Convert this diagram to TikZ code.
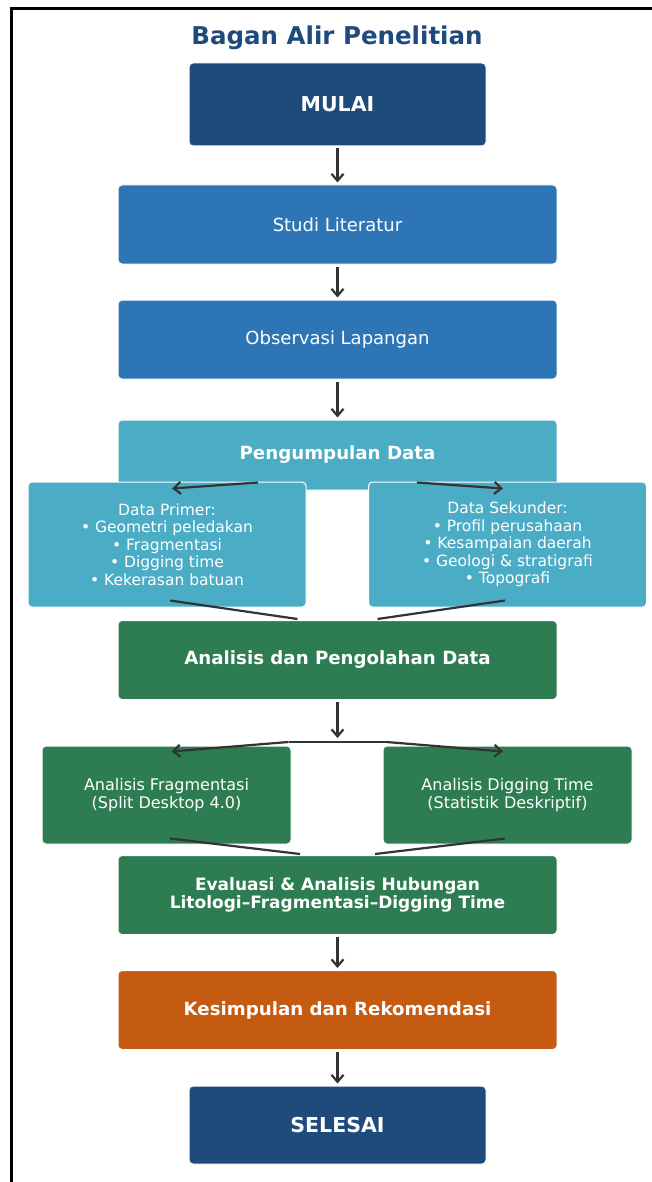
\documentclass[tikz,border=0pt]{standalone}
\usepackage{fontspec}
\setmainfont{DejaVu Sans}
\usetikzlibrary{arrows.meta,calc,positioning}

\definecolor{darkblue}{HTML}{1F4A7C}
\definecolor{midblue}{HTML}{2E75B6}
\definecolor{tealblue}{HTML}{4BACC6}
\definecolor{stepgreen}{HTML}{2E7D52}
\definecolor{steporange}{HTML}{C55A11}
\definecolor{arrowgray}{HTML}{333333}

\newcommand\boxreg{\fontsize{18}{21}\selectfont}
\newcommand\boxbold{\fontsize{18.2}{21}\selectfont\bfseries}

\begin{document}
\begin{tikzpicture}[x=1pt,y=-1pt,
    box/.style={draw=white, line width=1pt, rounded corners=4pt, text=white, align=center, inner sep=0pt},
    wide/.style={box, minimum width=439pt, minimum height=79pt},
    endbox/.style={box, fill=darkblue, minimum width=297pt, font=\fontsize{20.5}{24}\selectfont\bfseries},
    databox/.style={box, fill=tealblue, minimum width=278pt, minimum height=125pt, font=\fontsize{15.5}{17.5}\selectfont},
    anbox/.style={box, fill=stepgreen, minimum width=249pt, minimum height=98pt, font=\fontsize{16}{17.5}\selectfont},
    arr/.style={draw=arrowgray, line width=2.2pt, -{Straight Barb[length=7pt,width=12pt]}},
    down/.style={arr, shorten <=2pt, shorten >=2pt},
    link/.style={draw=arrowgray, line width=2.2pt}]

    \useasboundingbox (0,0) rectangle (652,1182);
    \fill[white] (0,0) rectangle (652,1182);
    \draw[line width=3pt] (11,1200) -- (11,9) -- (670,9);

    \node (title) at (337,38) [text=darkblue, font=\fontsize{24.5}{29}\selectfont\bfseries] {Bagan Alir Penelitian};

    \node (mulai) at (337.5,104.5) [endbox, minimum height=83pt] {MULAI};
    \node (studi) at (337.5,224.5) [wide, fill=midblue, font=\boxreg] {Studi Literatur};
    \node (observasi) at (337.5,339.5) [wide, fill=midblue, font=\boxreg] {Observasi Lapangan};
    \node (kumpul) at (337.5,455) [wide, fill=tealblue, minimum height=70pt, font=\boxbold] {Pengumpulan Data};

    \node (primer) at (167,544.5) [databox] {Data Primer:\\• Geometri peledakan\\• Fragmentasi\\• Digging time\\• Kekerasan batuan};
    \node (sekunder) at (507.5,544.5) [databox] {Data Sekunder:\\• Profil perusahaan\\• Kesampaian daerah\\• Geologi \& stratigrafi\\• Topografi};

    \node (analisis) at (337.5,660) [wide, fill=stepgreen, font=\boxbold] {Analisis dan Pengolahan Data};

    \node (fragmen) at (166.5,795) [anbox] {Analisis Fragmentasi\\(Split Desktop 4.0)};
    \node (digging) at (507.5,795) [anbox] {Analisis Digging Time\\(Statistik Deskriptif)};

    \node (evaluasi) at (337.5,895) [wide, fill=stepgreen, font=\fontsize{17}{18}\selectfont\bfseries] {Evaluasi \& Analisis Hubungan\\Litologi–Fragmentasi–Digging Time};
    \node (kesimpulan) at (337.5,1010) [wide, fill=steporange, font=\boxbold] {Kesimpulan dan Rekomendasi};
    \node (selesai) at (337.5,1125) [endbox, minimum height=78pt] {SELESAI};

    % main line
    \draw[down] (mulai) -- (studi);
    \draw[down] (studi) -- (observasi);
    \draw[down] (observasi) -- (kumpul);

    % split into data
    \draw[arr] ([xshift=-79.5pt,yshift=8pt]kumpul.south) -- ([xshift=5pt,yshift=-7pt]primer.north);
    \draw[arr] ([xshift=79.5pt,yshift=8pt]kumpul.south) -- ([xshift=-4.5pt,yshift=-7pt]sekunder.north);
    \draw[link] ([xshift=3pt,yshift=7pt]primer.south) -- ([xshift=-40pt,yshift=1pt]analisis.north);
    \draw[link] ([xshift=-2.5pt,yshift=7pt]sekunder.south) -- ([xshift=40pt,yshift=1pt]analisis.north);

    % split into analysis
    \coordinate (split) at (337.5,742);
    \draw[arr, shorten <=2pt] (analisis.south) -- ([yshift=4pt]split);
    \draw[link] ([xshift=-49pt]split) -- ([xshift=49pt]split);
    \draw[arr] ([xshift=-49pt]split) -- ([xshift=5pt,yshift=-6pt]fragmen.north);
    \draw[arr] ([xshift=49pt]split) -- ([xshift=-4.5pt,yshift=-6pt]digging.north);
    \draw[link] ([xshift=3.5pt,yshift=6pt]fragmen.south) -- ([xshift=-37.5pt,yshift=1pt]evaluasi.north);
    \draw[link] ([xshift=-2.5pt,yshift=6pt]digging.south) -- ([xshift=37.5pt,yshift=1pt]evaluasi.north);

    \draw[down] (evaluasi) -- (kesimpulan);
    \draw[down] (kesimpulan) -- (selesai);

\end{tikzpicture}
\end{document}
